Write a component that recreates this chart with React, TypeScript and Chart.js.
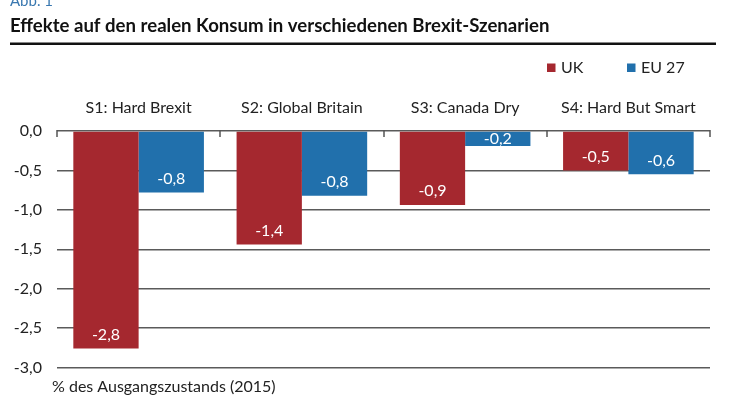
import React, { useEffect, useRef } from "react";
import { Chart, registerables } from "chart.js";

Chart.register(...registerables);

const categories = ["S1: Hard Brexit", "S2: Global Britain", "S3: Canada Dry", "S4: Hard But Smart"];
const ukValues = [-2.76, -1.44, -0.94, -0.5];
const euValues = [-0.78, -0.82, -0.19, -0.55];
const ukLabels = ["-2,8", "-1,4", "-0,9", "-0,5"];
const euLabels = ["-0,8", "-0,8", "-0,2", "-0,6"];
const seriesNames = ["UK", "EU 27"];
const yTicks = [0, -0.5, -1, -1.5, -2, -2.5, -3];

const RED = "#A5282F";
const BLUE = "#2170AC";
const FONT = "Lato, 'Source Sans Pro', sans-serif";
const TEXT = "#222222";

export default function App() {
  const ref = useRef<HTMLCanvasElement | null>(null);

  useEffect(() => {
    const canvas = ref.current;
    if (!canvas) return;
    const labelSets = [ukLabels, euLabels];

    const decor = {
      id: "decor",
      afterDraw(chart: any) {
        const ctx = chart.ctx;
        const area = chart.chartArea;
        const xs = chart.scales.x;
        ctx.save();
        // Abb. 1
        ctx.fillStyle = "#3A78B0";
        ctx.font = `15px ${FONT}`;
        ctx.textAlign = "left";
        ctx.textBaseline = "alphabetic";
        ctx.fillText("Abb. 1", 10, 6);
        // Title
        ctx.fillStyle = "#111";
        ctx.font = `bold 18.6px ${FONT}`;
        ctx.fillText("Effekte auf den realen Konsum in verschiedenen Brexit-Szenarien", 10, 32);
        // Rule
        ctx.fillStyle = "#111";
        ctx.fillRect(10, 42.5, 706, 2.5);
        // Legend
        const legendItems = [
          { x: 547, color: RED, text: seriesNames[0] },
          { x: 627, color: BLUE, text: seriesNames[1] },
        ];
        ctx.font = `16px ${FONT}`;
        ctx.textBaseline = "middle";
        legendItems.forEach((it) => {
          ctx.fillStyle = it.color;
          ctx.fillRect(it.x, 63.5, 8.5, 8.5);
          ctx.fillStyle = TEXT;
          ctx.fillText(it.text, it.x + 14, 68);
        });
        // Category labels
        ctx.textAlign = "center";
        ctx.textBaseline = "middle";
        ctx.font = `16px ${FONT}`;
        ctx.fillStyle = TEXT;
        categories.forEach((c, i) => {
          ctx.fillText(c, xs.getPixelForValue(i), 108);
        });
        // Category boundary ticks
        ctx.strokeStyle = "#555";
        ctx.lineWidth = 1.5;
        const w = (area.right - area.left) / categories.length;
        for (let i = 0; i <= categories.length; i++) {
          const x = Math.round(area.left + i * w);
          ctx.beginPath();
          ctx.moveTo(x, area.top - 1);
          ctx.lineTo(x, area.top + 6);
          ctx.stroke();
        }
        // Bottom note
        ctx.textAlign = "left";
        ctx.font = `16px ${FONT}`;
        ctx.fillText("% des Ausgangszustands (2015)", 52, 387);
        // Data labels
        ctx.fillStyle = "#ffffff";
        ctx.font = `16px ${FONT}`;
        ctx.textAlign = "center";
        chart.data.datasets.forEach((ds: any, di: number) => {
          const meta = chart.getDatasetMeta(di);
          meta.data.forEach((bar: any, i: number) => {
            const top = bar.base;
            const bottom = bar.y;
            const y = Math.max(bottom - 14, (top + bottom) / 2);
            ctx.fillText(labelSets[di][i], bar.x, y);
          });
        });
        ctx.restore();
      },
    };

    const chart = new Chart(canvas, {
      type: "bar",
      data: {
        labels: categories,
        datasets: [
          { label: seriesNames[0], data: ukValues, backgroundColor: RED, categoryPercentage: 0.8, barPercentage: 1 },
          { label: seriesNames[1], data: euValues, backgroundColor: BLUE, categoryPercentage: 0.8, barPercentage: 1 },
        ],
      },
      options: {
        responsive: false,
        animation: false,
        layout: { padding: { left: 0, right: 31, top: 131, bottom: 32.5 } },
        plugins: { legend: { display: false }, tooltip: { enabled: false } },
        scales: {
          x: { display: false },
          y: {
            min: -3,
            max: 0,
            afterFit: (s: any) => {
              s.width = 57;
            },
            afterBuildTicks: (s: any) => {
              s.ticks = yTicks.map((v) => ({ value: v }));
            },
            border: { display: false },
            grid: { color: "#5a5a5a", lineWidth: 1.5, drawTicks: false },
            ticks: {
              padding: 15,
              color: TEXT,
              font: { family: FONT, size: 16 },
              callback: (v: any) => Number(v).toFixed(1).replace(".", ","),
            },
          },
        },
      },
      plugins: [decor],
    });
    return () => chart.destroy();
  }, []);

  return (
    <div style={{ position: "absolute", left: 0, top: 0, width: 741, height: 400, background: "#fff" }}>
      <canvas ref={ref} width={741} height={400} style={{ display: "block" }} />
    </div>
  );
}
